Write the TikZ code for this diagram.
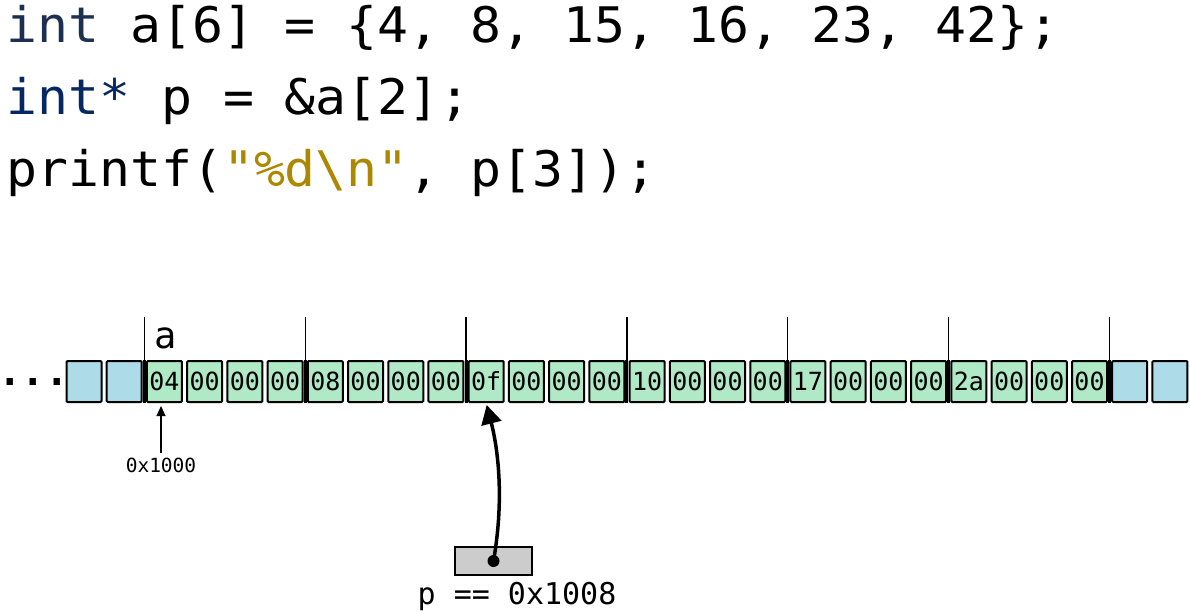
\documentclass[tikz,border=0pt]{standalone}
\usepackage{fontspec}
\setmonofont{DejaVu Sans Mono}
\newfontfamily\codefont[FakeStretch=1.05]{DejaVu Sans Mono}
\usetikzlibrary{arrows.meta, positioning, calc}
\definecolor{bytegreen}{RGB}{175,233,198}
\definecolor{byteblue}{RGB}{173,220,232}
\definecolor{kwslate}{RGB}{30,48,82}
\definecolor{kwnavy}{RGB}{6,40,98}
\definecolor{strgold}{RGB}{172,135,0}

\tikzset{
  codeline/.style={anchor=base west, inner sep=0pt, font=\codefont\fontsize{49}{49}\selectfont},
  byte/.style={draw, line width=2pt, rounded corners=1pt, fill=bytegreen,
    minimum width=35pt, minimum height=41pt, inner sep=0pt,
    font=\ttfamily\fontsize{25}{25}\selectfont},
  spare/.style={byte, fill=byteblue},
}

\begin{document}
\begin{tikzpicture}[x=1pt, y=-1pt]
\useasboundingbox (0,0) rectangle (1190,610);

% source code
\node[codeline] (line1) at (6,42) {\textcolor{kwslate}{int} a[6] = \{4, 8, 15, 16, 23, 42\};};
\node[codeline] (line2) at (6,114) {\textcolor{kwnavy}{int*} p = \&a[2];};
\node[codeline] (line3) at (6,186) {printf(\textcolor{strgold}{"\%d\textbackslash n"}, p[3]);};

% memory row
\node[anchor=base west, inner sep=0pt, font=\ttfamily\bfseries\fontsize{39}{39}\selectfont] (dots) at (-2,385) {...};
\node[spare] (c0) at (84,381.5) {};
\node[spare] (c1) at (124.2,381.5) {};
\foreach \v [count=\i from 2] in {04,00,00,00,08,00,00,00,0f,00,00,00,10,00,00,00,17,00,00,00,2a,00,00,00}
  \node[byte] (c\i) at (84+40.22*\i,381.5) {\v};
\node[spare] (c26) at (84+40.22*26,381.5) {};
\node[spare] (c27) at (84+40.22*27,381.5) {};

% int boundaries
\foreach \j in {2,6,...,26} {
  \pgfmathtruncatemacro{\i}{\j-1}
  \draw[line width=3pt] ($(c\i.north east)!.5!(c\j.north west)$) -- ($(c\i.south east)!.5!(c\j.south west)$);
  \draw[line width=1.2pt] ($(c\i.north east)!.5!(c\j.north west)$) -- ++(0,-43);
}
\node[anchor=base west, inner sep=0pt, font=\ttfamily\fontsize{37}{37}\selectfont] (aname) at (154,348) {a};

% address of a
\node[anchor=base, inner sep=0pt, font=\ttfamily\fontsize{19.5}{19.5}\selectfont] (addr) at (161,472) {0x1000};
\draw[line width=1.2pt, -{Triangle[length=10pt,width=9pt]}, shorten >=3pt] ([yshift=4pt]addr.north) -- (addr.north |- c2.south);

% pointer p
\node[draw, line width=2pt, fill=gray!40, minimum width=77pt, minimum height=28pt] (pbox) at (493.5,561) {};
\node[circle, fill, inner sep=0pt, minimum size=12pt] (pdot) at (pbox.center) {};
\draw[line width=3.5pt, -{Triangle[length=19pt,width=20pt]}, shorten >=2pt] (pdot.center) .. controls (505,495) and (497,445) .. (c10.south);
\node[anchor=base, inner sep=0pt, font=\ttfamily\fontsize{30}{30}\selectfont] (plabel) at (517,604) {p == 0x1008};
\end{tikzpicture}
\end{document}
